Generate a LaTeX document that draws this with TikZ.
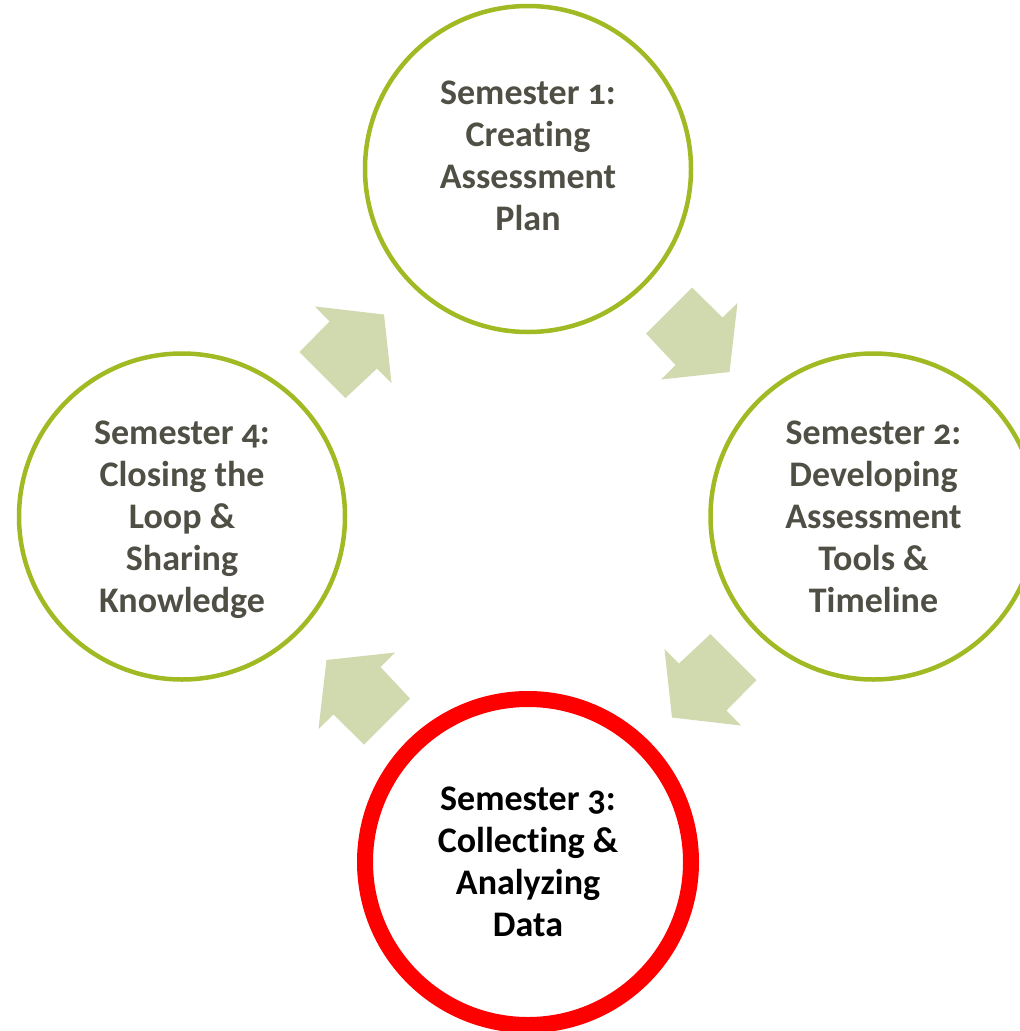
\documentclass[tikz,border=0pt]{standalone}
\usepackage{fontspec}
\setmainfont{Carlito}[Numbers=OldStyle, Ligatures=NoCommon]
\definecolor{ringgreen}{HTML}{A0BA24}
\definecolor{arrowgreen}{HTML}{D1D9AE}
\definecolor{textgray}{HTML}{504F45}

\tikzset{
  stage/.style={circle, draw=ringgreen, line width=4.5pt, minimum size=326pt, inner sep=0pt},
  stagetext/.style={align=center, text=textgray, font=\fontsize{36}{42}\selectfont\bfseries},
  cyclearrow/.style={fill=arrowgreen},
}

\begin{document}
\begin{tikzpicture}[x=1pt, y=-1pt]
\useasboundingbox (0,0) rectangle (1020,1031);
\coordinate (c) at (528,516);
\node[stage] (s1) at (528,169) {};
\node[stagetext] (t1) at ([yshift=13pt]s1.center) {Semester 1:\\Creating\\Assessment\\Plan};
\node[stage, stagetext] (s2) at (873.5,516.5) {Semester 2:\\Developing\\Assessment\\Tools \&\\Timeline};
\node[stage, stagetext, draw=red, line width=16pt, text=black] (s3) at (528,862) {Semester 3:\\Collecting \&\\Analyzing\\Data};
\node[stage] (s4) at (182,516.5) {};
\node[stagetext] (t4) at ([yshift=-3pt]s4.center) {Semester 4:\\Closing the\\Loop \&\\Sharing\\Knowledge};
% block arrows, turned a quarter round each
\foreach \a in {0,1,2,3}
  \fill[cyclearrow, shift={(c)}, rotate=-90*\a] (164,-228.5) -- (194.5,-198.5) -- (209.5,-213)
    -- (201.5,-144) -- (133,-136.5) -- (147.5,-151) -- (118,-182.5) -- cycle;
\end{tikzpicture}
\end{document}
